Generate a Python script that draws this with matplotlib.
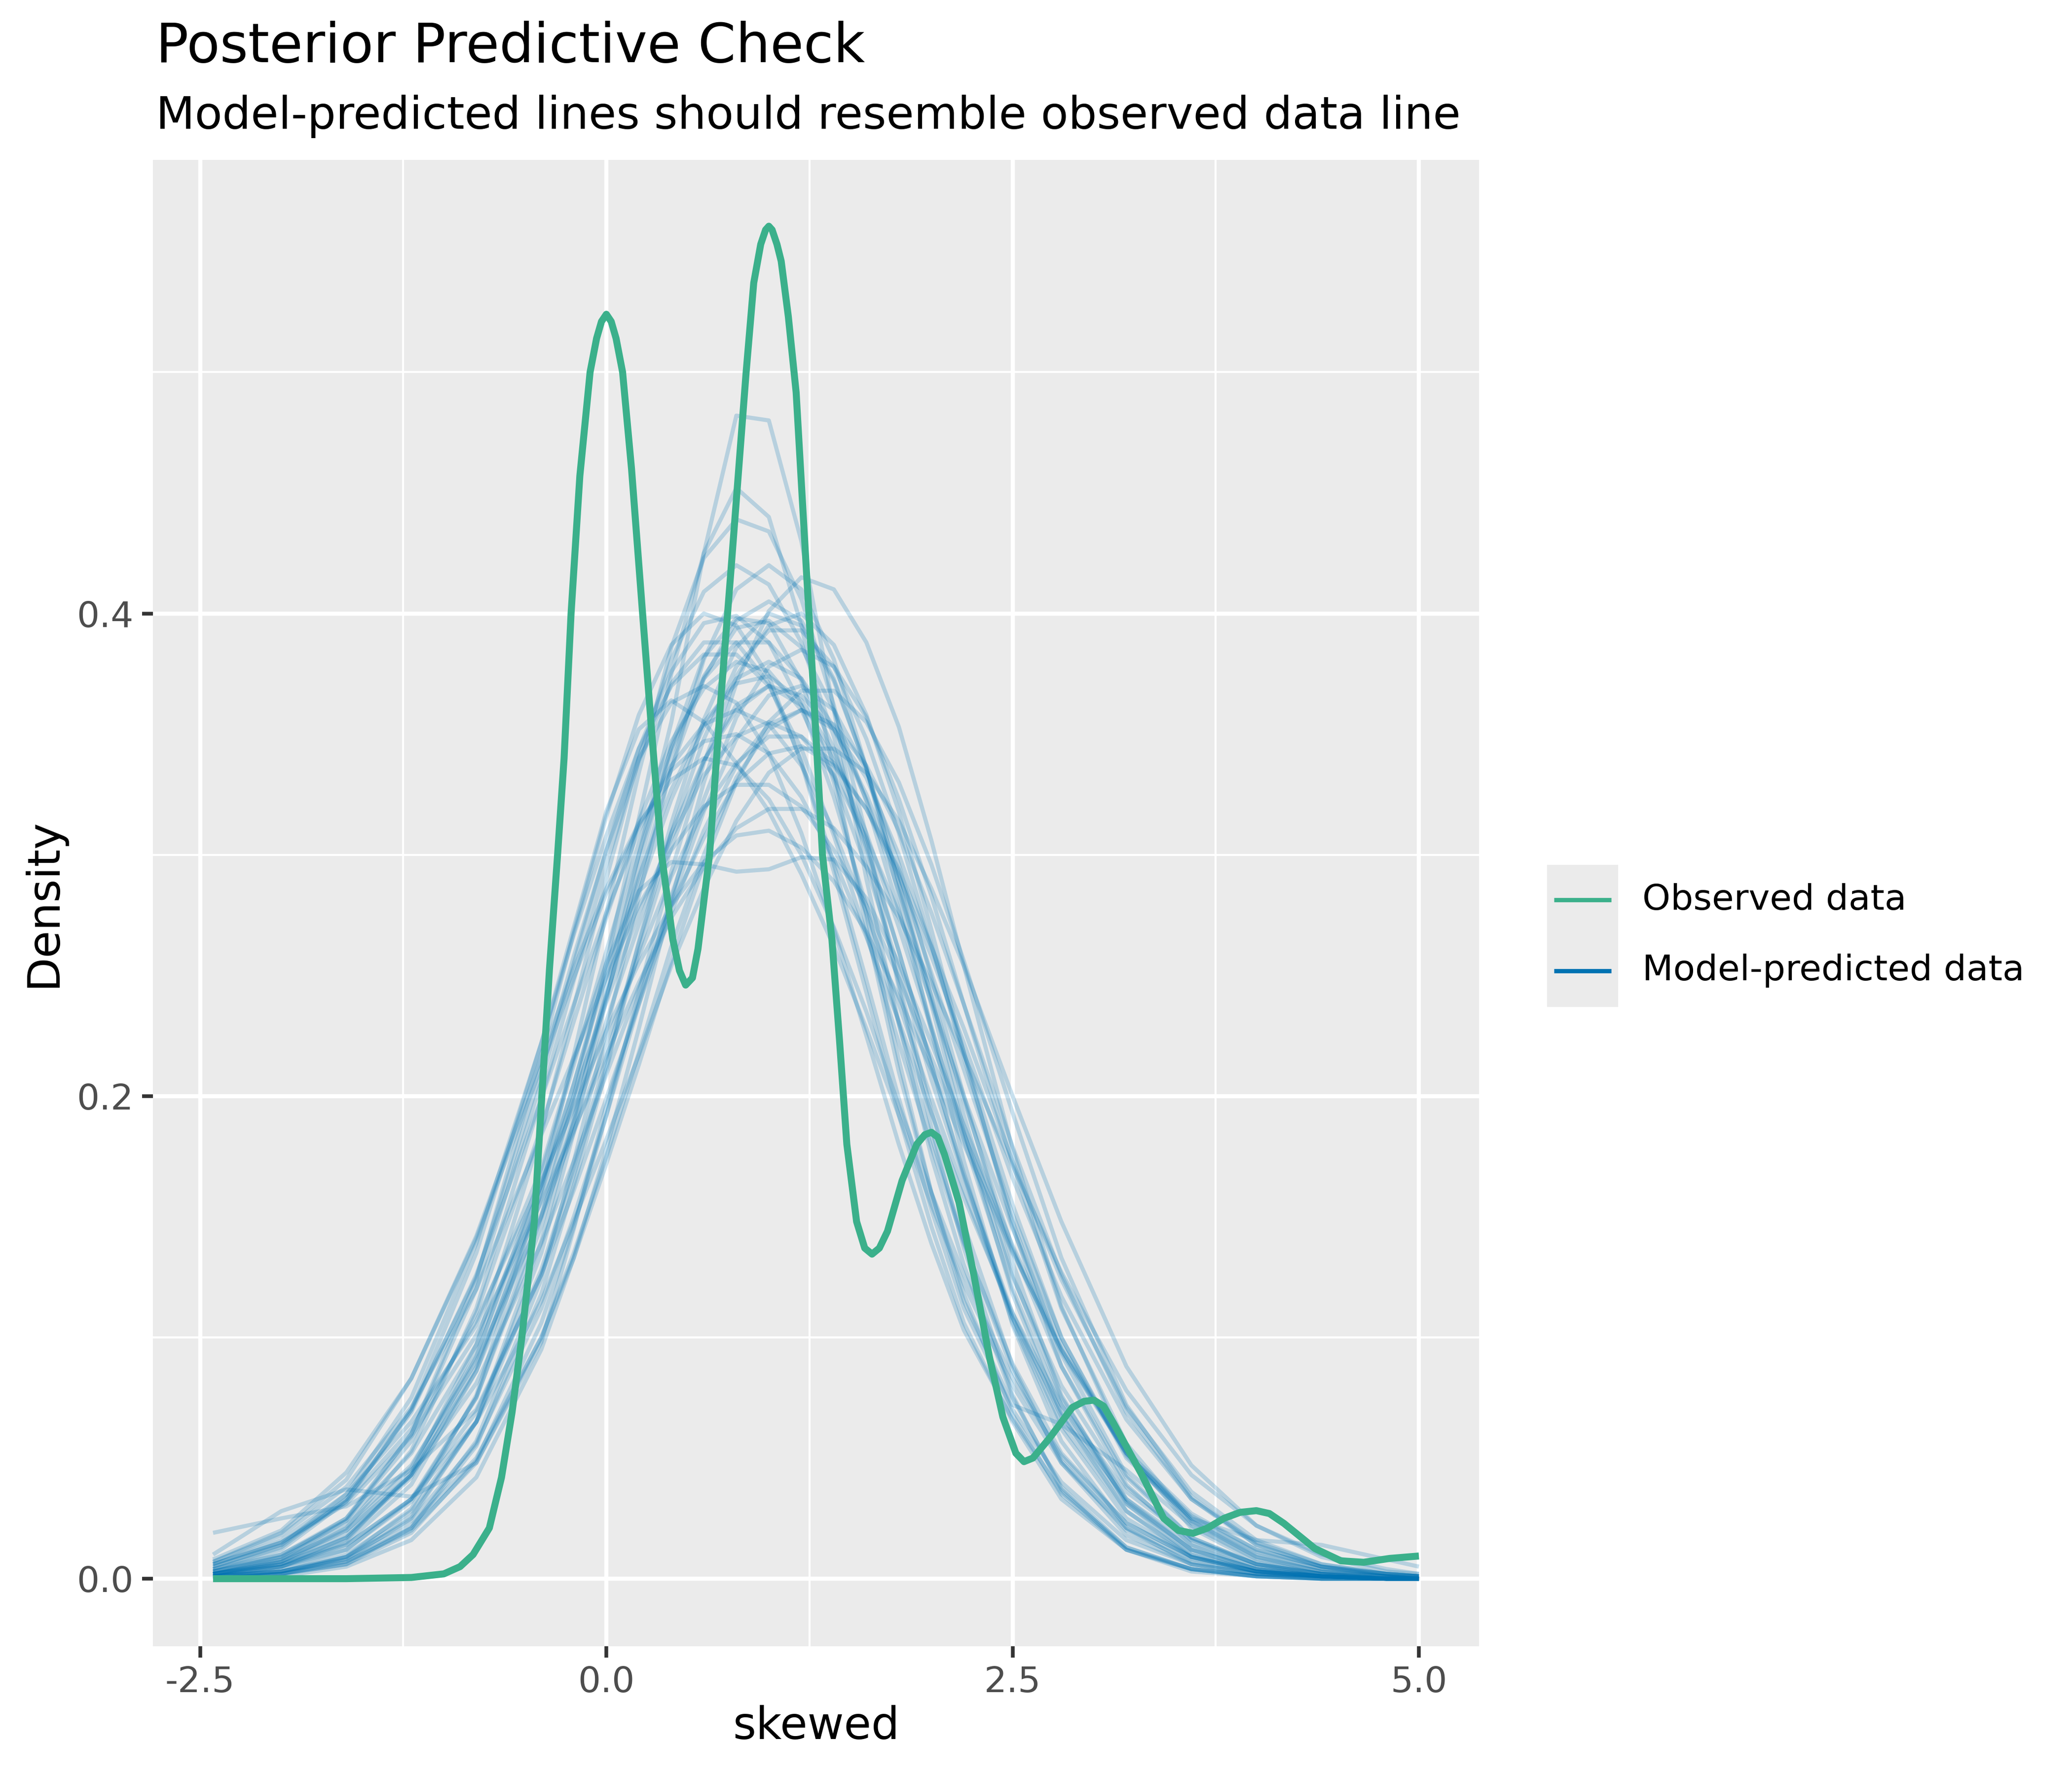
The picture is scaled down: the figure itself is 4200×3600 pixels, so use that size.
import matplotlib
matplotlib.use("Agg")
import matplotlib.pyplot as plt
from matplotlib.patches import Rectangle
from matplotlib.lines import Line2D

plt.rcParams['font.family'] = ['DejaVu Sans']
plt.rcParams['axes.unicode_minus'] = False

title = "Posterior Predictive Check"
subtitle = "Model-predicted lines should resemble observed data line"
x_title = "skewed"
y_title = "Density"
legend_labels = ["Observed data", "Model-predicted data"]

x_ticks = [-2.5, 0.0, 2.5, 5.0]
x_tick_labels = ["-2.5", "0.0", "2.5", "5.0"]
x_minor = [-1.25, 1.25, 3.75]
y_ticks = [0.0, 0.2, 0.4]
y_tick_labels = ["0.0", "0.2", "0.4"]
y_minor = [0.1, 0.3, 0.5]

# observed density
obs_x = [-2.42, -1.6, -1.2, -1.0, -0.9, -0.82, -0.72, -0.645, -0.58, -0.52,
         -0.443, -0.397, -0.35, -0.30, -0.26, -0.217, -0.163, -0.10, -0.06, -0.03,
         0.0, 0.03, 0.06, 0.10, 0.155, 0.223, 0.286, 0.34, 0.409, 0.45,
         0.488, 0.53, 0.564, 0.635, 0.704, 0.767, 0.859, 0.907, 0.95, 0.98,
         1.0, 1.02, 1.05, 1.076, 1.12, 1.168, 1.231, 1.278, 1.33, 1.388,
         1.435, 1.48, 1.54, 1.59, 1.635, 1.68, 1.73, 1.82, 1.91, 1.96,
         2.0, 2.04, 2.08, 2.17, 2.264, 2.357, 2.44, 2.52, 2.57, 2.625,
         2.73, 2.868, 2.94, 3.0, 3.06, 3.12, 3.29, 3.43, 3.52, 3.61,
         3.70, 3.80, 3.9, 4.0, 4.08, 4.17, 4.36, 4.52, 4.66, 4.82,
         5.0]
obs_y = [0.0, 0.0, 0.0005, 0.002, 0.005, 0.010, 0.021, 0.042, 0.069, 0.100,
         0.148, 0.200, 0.2525, 0.300, 0.340, 0.400, 0.457, 0.500, 0.514, 0.521,
         0.524, 0.521, 0.514, 0.500, 0.460, 0.400, 0.345, 0.300, 0.265, 0.252,
         0.246, 0.249, 0.261, 0.300, 0.364, 0.418, 0.499, 0.537, 0.553, 0.559,
         0.5605, 0.559, 0.553, 0.546, 0.523, 0.4916, 0.418, 0.364, 0.300, 0.265,
         0.223, 0.180, 0.148, 0.137, 0.1345, 0.137, 0.144, 0.165, 0.180, 0.184,
         0.185, 0.183, 0.176, 0.156, 0.125, 0.092, 0.067, 0.052, 0.0485, 0.050,
         0.0585, 0.071, 0.0735, 0.074, 0.0715, 0.0646, 0.0437, 0.025, 0.020, 0.0188,
         0.021, 0.025, 0.0275, 0.0282, 0.027, 0.0229, 0.0125, 0.0074, 0.0068, 0.0084,
         0.0094]

# model-predicted densities (one row per draw), sampled on pred_x
pred_x = [-2.42, -2.0, -1.6, -1.2, -0.8, -0.4, -0.2, 0.0, 0.2, 0.4,
          0.6, 0.8, 1.0, 1.2, 1.4, 1.6, 1.8, 2.0, 2.2, 2.5,
          2.8, 3.2, 3.6, 4.0, 4.4, 4.8, 5.0]
pred_density = [
    [0.001, 0.003, 0.008, 0.025, 0.065, 0.140, 0.190, 0.245, 0.300, 0.355, 0.425, 0.482, 0.480, 0.430, 0.360, 0.290, 0.230, 0.175, 0.130, 0.075, 0.038, 0.013, 0.004, 0.001, 0.000, 0.000, 0.000],
    [0.002, 0.005, 0.012, 0.032, 0.075, 0.150, 0.200, 0.255, 0.315, 0.375, 0.425, 0.452, 0.440, 0.395, 0.335, 0.270, 0.210, 0.160, 0.118, 0.068, 0.035, 0.012, 0.004, 0.001, 0.000, 0.000, 0.000],
    [0.001, 0.005, 0.016, 0.044, 0.097, 0.185, 0.237, 0.290, 0.340, 0.381, 0.409, 0.420, 0.412, 0.388, 0.349, 0.300, 0.247, 0.194, 0.147, 0.088, 0.048, 0.018, 0.006, 0.002, 0.001, 0.000, 0.000],
    [0.000, 0.001, 0.005, 0.016, 0.042, 0.095, 0.133, 0.178, 0.228, 0.281, 0.330, 0.371, 0.401, 0.415, 0.410, 0.388, 0.353, 0.306, 0.254, 0.178, 0.113, 0.053, 0.021, 0.007, 0.002, 0.000, 0.000],
    [0.001, 0.004, 0.012, 0.033, 0.075, 0.146, 0.192, 0.241, 0.289, 0.336, 0.373, 0.397, 0.405, 0.397, 0.373, 0.336, 0.289, 0.241, 0.192, 0.126, 0.075, 0.033, 0.012, 0.004, 0.001, 0.000, 0.000],
    [0.001, 0.005, 0.015, 0.039, 0.086, 0.160, 0.205, 0.253, 0.300, 0.342, 0.374, 0.394, 0.397, 0.386, 0.360, 0.322, 0.277, 0.229, 0.182, 0.120, 0.072, 0.032, 0.012, 0.004, 0.001, 0.000, 0.000],
    [0.001, 0.003, 0.010, 0.028, 0.065, 0.128, 0.170, 0.216, 0.263, 0.309, 0.348, 0.378, 0.393, 0.393, 0.378, 0.348, 0.309, 0.263, 0.216, 0.148, 0.093, 0.043, 0.017, 0.006, 0.002, 0.000, 0.000],
    [0.005, 0.014, 0.035, 0.075, 0.139, 0.222, 0.267, 0.308, 0.344, 0.370, 0.383, 0.383, 0.370, 0.344, 0.308, 0.267, 0.222, 0.179, 0.139, 0.089, 0.052, 0.023, 0.009, 0.003, 0.001, 0.000, 0.000],
    [0.001, 0.003, 0.009, 0.024, 0.056, 0.112, 0.150, 0.192, 0.238, 0.283, 0.323, 0.357, 0.378, 0.385, 0.378, 0.357, 0.323, 0.283, 0.238, 0.172, 0.112, 0.056, 0.024, 0.009, 0.003, 0.001, 0.000],
    [0.003, 0.010, 0.025, 0.057, 0.110, 0.187, 0.231, 0.274, 0.314, 0.347, 0.369, 0.380, 0.376, 0.360, 0.332, 0.295, 0.253, 0.207, 0.166, 0.110, 0.067, 0.031, 0.012, 0.004, 0.001, 0.000, 0.000],
    [0.002, 0.007, 0.018, 0.043, 0.086, 0.151, 0.189, 0.231, 0.271, 0.309, 0.339, 0.360, 0.370, 0.366, 0.352, 0.325, 0.292, 0.251, 0.211, 0.151, 0.100, 0.051, 0.023, 0.009, 0.003, 0.001, 0.000],
    [0.004, 0.013, 0.033, 0.070, 0.125, 0.210, 0.258, 0.302, 0.340, 0.363, 0.370, 0.363, 0.342, 0.309, 0.269, 0.225, 0.180, 0.139, 0.103, 0.066, 0.036, 0.013, 0.004, 0.001, 0.000, 0.000, 0.000],
    [0.001, 0.003, 0.008, 0.022, 0.050, 0.100, 0.133, 0.172, 0.213, 0.256, 0.296, 0.330, 0.355, 0.368, 0.368, 0.355, 0.330, 0.296, 0.256, 0.193, 0.133, 0.072, 0.034, 0.014, 0.005, 0.001, 0.001],
    [0.004, 0.012, 0.032, 0.070, 0.135, 0.222, 0.270, 0.318, 0.352, 0.364, 0.355, 0.338, 0.318, 0.292, 0.262, 0.228, 0.192, 0.155, 0.122, 0.080, 0.048, 0.021, 0.008, 0.003, 0.001, 0.000, 0.000],
    [0.004, 0.010, 0.024, 0.052, 0.097, 0.163, 0.200, 0.239, 0.276, 0.307, 0.333, 0.349, 0.355, 0.349, 0.333, 0.307, 0.276, 0.239, 0.200, 0.145, 0.097, 0.052, 0.024, 0.010, 0.004, 0.001, 0.001],
    [0.008, 0.020, 0.044, 0.083, 0.141, 0.212, 0.249, 0.284, 0.312, 0.335, 0.347, 0.350, 0.342, 0.324, 0.298, 0.266, 0.231, 0.193, 0.158, 0.110, 0.072, 0.036, 0.016, 0.006, 0.002, 0.001, 0.000],
    [0.003, 0.008, 0.020, 0.043, 0.081, 0.139, 0.173, 0.209, 0.245, 0.279, 0.307, 0.330, 0.342, 0.345, 0.337, 0.319, 0.294, 0.262, 0.228, 0.173, 0.124, 0.071, 0.036, 0.016, 0.006, 0.002, 0.001],
    [0.007, 0.018, 0.038, 0.071, 0.120, 0.184, 0.216, 0.249, 0.279, 0.302, 0.320, 0.329, 0.329, 0.320, 0.302, 0.279, 0.249, 0.216, 0.184, 0.136, 0.094, 0.052, 0.026, 0.012, 0.005, 0.002, 0.001],
    [0.002, 0.006, 0.014, 0.033, 0.065, 0.115, 0.148, 0.182, 0.217, 0.254, 0.286, 0.314, 0.334, 0.344, 0.344, 0.334, 0.314, 0.286, 0.254, 0.200, 0.148, 0.088, 0.047, 0.022, 0.009, 0.003, 0.002],
    [0.007, 0.019, 0.041, 0.083, 0.142, 0.216, 0.253, 0.286, 0.313, 0.331, 0.340, 0.337, 0.323, 0.300, 0.270, 0.235, 0.196, 0.160, 0.126, 0.083, 0.051, 0.023, 0.009, 0.003, 0.001, 0.000, 0.000],
    [0.006, 0.016, 0.035, 0.065, 0.105, 0.170, 0.215, 0.255, 0.285, 0.297, 0.296, 0.293, 0.294, 0.299, 0.298, 0.282, 0.255, 0.222, 0.188, 0.138, 0.095, 0.052, 0.025, 0.011, 0.004, 0.002, 0.001],
    [0.006, 0.015, 0.031, 0.059, 0.101, 0.156, 0.186, 0.217, 0.247, 0.274, 0.295, 0.311, 0.319, 0.319, 0.311, 0.295, 0.274, 0.247, 0.217, 0.171, 0.127, 0.078, 0.043, 0.022, 0.010, 0.004, 0.002],
    [0.006, 0.015, 0.032, 0.062, 0.107, 0.165, 0.195, 0.227, 0.255, 0.279, 0.297, 0.308, 0.310, 0.303, 0.289, 0.268, 0.241, 0.211, 0.180, 0.135, 0.095, 0.053, 0.027, 0.012, 0.005, 0.002, 0.001],
    [0.019, 0.025, 0.030, 0.045, 0.070, 0.126, 0.167, 0.213, 0.260, 0.303, 0.339, 0.362, 0.370, 0.362, 0.339, 0.303, 0.260, 0.213, 0.167, 0.106, 0.062, 0.025, 0.009, 0.003, 0.001, 0.000, 0.000],
    [0.010, 0.028, 0.037, 0.034, 0.048, 0.098, 0.145, 0.196, 0.240, 0.280, 0.318, 0.348, 0.366, 0.370, 0.360, 0.335, 0.296, 0.249, 0.200, 0.131, 0.076, 0.031, 0.010, 0.003, 0.001, 0.000, 0.000],
    [0.001, 0.003, 0.009, 0.026, 0.065, 0.135, 0.185, 0.240, 0.295, 0.345, 0.382, 0.398, 0.396, 0.372, 0.330, 0.275, 0.215, 0.160, 0.115, 0.072, 0.064, 0.045, 0.022, 0.008, 0.003, 0.001, 0.000],
    [0.001, 0.002, 0.007, 0.020, 0.048, 0.100, 0.135, 0.175, 0.218, 0.262, 0.300, 0.332, 0.352, 0.360, 0.352, 0.332, 0.300, 0.262, 0.218, 0.155, 0.100, 0.050, 0.025, 0.016, 0.014, 0.008, 0.005],
    [0.002, 0.007, 0.021, 0.053, 0.112, 0.199, 0.248, 0.296, 0.339, 0.371, 0.388, 0.388, 0.371, 0.339, 0.296, 0.248, 0.199, 0.153, 0.112, 0.070, 0.040, 0.016, 0.006, 0.002, 0.000, 0.000, 0.000],
    [0.000, 0.002, 0.006, 0.021, 0.057, 0.124, 0.173, 0.227, 0.283, 0.336, 0.381, 0.410, 0.420, 0.410, 0.381, 0.336, 0.283, 0.227, 0.173, 0.105, 0.057, 0.021, 0.006, 0.002, 0.000, 0.000, 0.000],
    [0.003, 0.009, 0.025, 0.060, 0.120, 0.206, 0.255, 0.302, 0.344, 0.376, 0.396, 0.399, 0.388, 0.362, 0.324, 0.279, 0.230, 0.183, 0.140, 0.086, 0.049, 0.020, 0.007, 0.002, 0.001, 0.000, 0.000],
    [0.002, 0.007, 0.020, 0.046, 0.093, 0.163, 0.205, 0.250, 0.291, 0.327, 0.355, 0.371, 0.374, 0.364, 0.342, 0.309, 0.270, 0.228, 0.185, 0.125, 0.080, 0.038, 0.016, 0.006, 0.002, 0.000, 0.000],
    [0.000, 0.002, 0.006, 0.019, 0.049, 0.106, 0.146, 0.192, 0.243, 0.293, 0.338, 0.374, 0.395, 0.400, 0.387, 0.358, 0.318, 0.269, 0.218, 0.146, 0.088, 0.039, 0.014, 0.004, 0.001, 0.000, 0.000],
    [0.002, 0.006, 0.017, 0.043, 0.092, 0.168, 0.213, 0.260, 0.305, 0.344, 0.373, 0.388, 0.388, 0.373, 0.344, 0.305, 0.260, 0.213, 0.168, 0.108, 0.064, 0.028, 0.010, 0.003, 0.001, 0.000, 0.000],
    [0.000, 0.002, 0.007, 0.021, 0.055, 0.118, 0.163, 0.211, 0.264, 0.313, 0.356, 0.386, 0.400, 0.395, 0.372, 0.336, 0.288, 0.238, 0.186, 0.118, 0.068, 0.028, 0.009, 0.003, 0.001, 0.000, 0.000],
    [0.005, 0.014, 0.033, 0.069, 0.126, 0.199, 0.238, 0.276, 0.310, 0.337, 0.354, 0.360, 0.354, 0.337, 0.310, 0.276, 0.238, 0.199, 0.161, 0.108, 0.069, 0.033, 0.014, 0.005, 0.002, 0.001, 0.000],
    [0.002, 0.005, 0.014, 0.033, 0.069, 0.126, 0.161, 0.199, 0.238, 0.276, 0.310, 0.337, 0.354, 0.360, 0.354, 0.337, 0.310, 0.276, 0.238, 0.179, 0.126, 0.069, 0.033, 0.014, 0.005, 0.002, 0.001],
    [0.002, 0.008, 0.024, 0.060, 0.124, 0.217, 0.268, 0.316, 0.358, 0.387, 0.400, 0.395, 0.374, 0.338, 0.293, 0.243, 0.192, 0.146, 0.106, 0.065, 0.033, 0.012, 0.004, 0.001, 0.000, 0.000, 0.000],
    [0.002, 0.006, 0.017, 0.042, 0.088, 0.157, 0.198, 0.242, 0.285, 0.323, 0.353, 0.373, 0.380, 0.373, 0.353, 0.323, 0.285, 0.242, 0.198, 0.137, 0.088, 0.042, 0.017, 0.006, 0.002, 0.000, 0.000],
    [0.003, 0.009, 0.022, 0.047, 0.090, 0.150, 0.185, 0.222, 0.258, 0.291, 0.319, 0.338, 0.349, 0.349, 0.338, 0.319, 0.291, 0.258, 0.222, 0.166, 0.117, 0.066, 0.033, 0.015, 0.006, 0.002, 0.001],
    [0.000, 0.002, 0.009, 0.029, 0.076, 0.161, 0.217, 0.276, 0.334, 0.386, 0.423, 0.439, 0.434, 0.406, 0.362, 0.308, 0.245, 0.187, 0.137, 0.076, 0.037, 0.012, 0.003, 0.001, 0.000, 0.000, 0.000],
]

OBS_COLOR = "#3BB08B"
PRED_COLOR = "#0072B2"
PANEL_BG = "#EBEBEB"


def draw_panel(ax):
    ax.set_facecolor(PANEL_BG)
    for s in ax.spines.values():
        s.set_visible(False)
    for row in pred_density:
        ax.plot(pred_x, row, color=PRED_COLOR, alpha=0.22, lw=2.0,
                solid_capstyle='butt', solid_joinstyle='round', zorder=2)
    ax.plot(obs_x, obs_y, color=OBS_COLOR, lw=3.4, zorder=3,
            solid_joinstyle='round', solid_capstyle='butt')

    ax.set_xlim(-2.79, 5.37)
    ax.set_ylim(-0.028, 0.588)
    ax.set_xticks(x_ticks)
    ax.set_xticklabels(x_tick_labels)
    ax.set_xticks(x_minor, minor=True)
    ax.set_yticks(y_ticks)
    ax.set_yticklabels(y_tick_labels)
    ax.set_yticks(y_minor, minor=True)
    ax.grid(which='major', color='white', lw=2.0, zorder=0)
    ax.grid(which='minor', color='white', lw=1.0, zorder=0)
    ax.set_axisbelow(True)
    ax.tick_params(which='major', length=5.4, width=1.8, color='#333333',
                   labelcolor='#4D4D4D', labelsize=17.4, pad=4)
    ax.tick_params(which='minor', length=0)


def draw_legend(fig):
    fig.add_artist(Rectangle((3136 / 4200, 1 - 2041 / 3600), 144 / 4200, 288 / 3600,
                             transform=fig.transFigure, facecolor=PANEL_BG,
                             edgecolor='none'))
    ys = [1 - 1824 / 3600, 1 - 1968 / 3600]
    colors = [OBS_COLOR, PRED_COLOR]
    for y, c, lab in zip(ys, colors, legend_labels):
        fig.add_artist(Line2D([3150 / 4200, 3266 / 4200], [y, y],
                              transform=fig.transFigure, color=c, lw=2.1,
                              solid_capstyle='butt'))
        fig.text(3329 / 4200, y, lab, fontsize=17.4, va='center', ha='left')


def main():
    fig = plt.figure(figsize=(14, 12), dpi=300)
    ax = fig.add_axes([310 / 4200, 1 - 3337 / 3600, (2998 - 310) / 4200, (3337 - 324) / 3600])
    draw_panel(ax)
    draw_legend(fig)
    fig.text(316 / 4200, 1 - 126 / 3600, title, fontsize=26.4, va='baseline', ha='left')
    fig.text(316 / 4200, 1 - 261 / 3600, subtitle, fontsize=21.9, va='baseline', ha='left')
    fig.text(1654 / 4200, 1 - 3525 / 3600, x_title, fontsize=21.7, va='baseline', ha='center')
    fig.text(88 / 4200, 1 - 1830 / 3600, y_title, fontsize=21.7, va='center', ha='center',
             rotation=90)
    fig.savefig("out.png", dpi=300, facecolor='white')
    plt.close(fig)


main()
